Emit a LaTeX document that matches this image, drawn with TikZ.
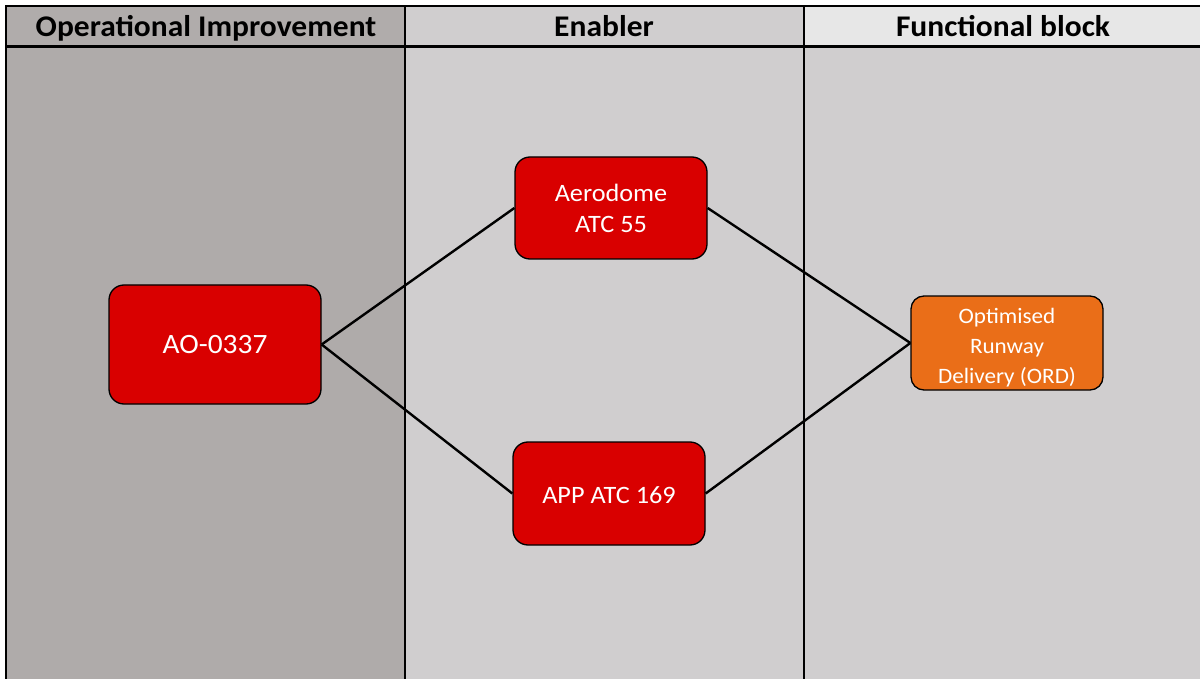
\documentclass[tikz,border=0pt]{standalone}
\usepackage{fontspec}
\setmainfont{Carlito}[FakeStretch=1.05]
\definecolor{hdrA}{RGB}{176,172,171}
\definecolor{hdrB}{RGB}{208,206,207}
\definecolor{hdrC}{RGB}{231,231,231}
\definecolor{bodyA}{RGB}{175,171,170}
\definecolor{bodyB}{RGB}{208,206,207}
\definecolor{boxred}{RGB}{217,0,0}
\definecolor{boxorange}{RGB}{234,110,24}
\tikzset{
  hdrtext/.style={font=\fontsize{30}{34}\selectfont\bfseries, text=black, anchor=base},
  redbox/.style={draw=black, line width=1.3pt, fill=boxred, rounded corners=15pt, align=center, text=white, inner sep=0pt},
  orangebox/.style={draw=black, line width=1.3pt, fill=boxorange, rounded corners=13pt, align=center, text=white, inner sep=0pt, font=\fontsize{22}{30}\selectfont},
  link/.style={draw=black, line width=2.4pt},
}
\begin{document}
\begin{tikzpicture}[x=1pt,y=-1pt]
\useasboundingbox (0,0) rectangle (1200,679);
% column backgrounds
\fill[bodyA] (6,47) rectangle (405,679);
\fill[bodyB] (405,47) rectangle (1200,679);
\fill[hdrA] (6,6) rectangle (405,47);
\fill[hdrB] (405,6) rectangle (804,47);
\fill[hdrC] (804,6) rectangle (1200,47);
% lines
\draw[line width=2pt] (6,679) -- (6,6) -- (1200,6);
\draw[line width=3pt] (6,47) -- (1200,47);
\draw[line width=1.5pt] (405,6) -- (405,679);
\draw[line width=1.5pt] (804,6) -- (804,679);
% headers
\node[hdrtext] (h1) at (206,37) {Operational Improvement};
\node[hdrtext] (h2) at (604,37) {Enabler};
\node[hdrtext] (h3) at (1003,37) {Functional block};
% boxes
\node[redbox, minimum width=212pt, minimum height=119pt, font=\fontsize{28}{30}\selectfont] (ao) at (215,344.5) {AO-0337};
\node[redbox, minimum width=192pt, minimum height=102pt, font=\fontsize{25}{31}\selectfont] (aer) at (611,208) {Aerodome\\ATC 55};
\node[redbox, minimum width=192pt, minimum height=103pt, font=\fontsize{25}{31}\selectfont] (app) at (609,493.5) {\rule{0pt}{20pt}APP ATC 169};
\node[orangebox, minimum width=192pt, minimum height=94pt] (ord) at (1007,343) {\rule{0pt}{24.5pt}Optimised\\Runway\\Delivery (ORD)};
% links
\draw[link] (ao.east) -- (aer.west);
\draw[link] (ao.east) -- (app.west);
\draw[link] (aer.east) -- (ord.west);
\draw[link] (app.east) -- (ord.west);
\end{tikzpicture}
\end{document}
